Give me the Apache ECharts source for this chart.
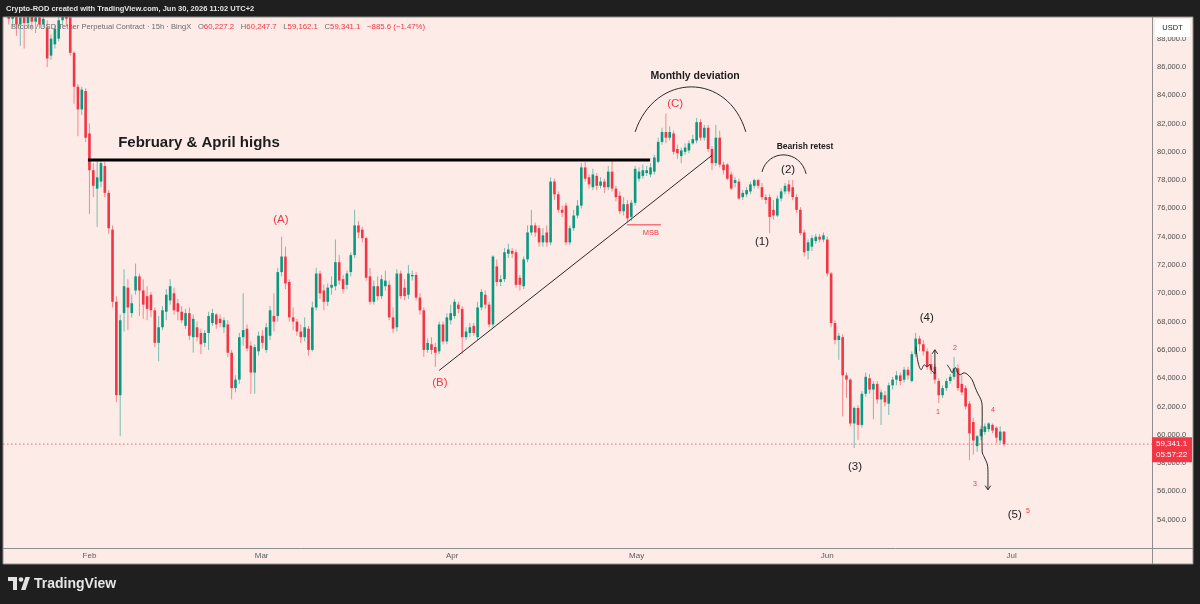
<!DOCTYPE html>
<html>
<head>
<meta charset="utf-8">
<title>BTCUSDT Perpetual · 15h · BingX</title>
<script src="https://cdn.jsdelivr.net/npm/echarts@6.0.0/dist/echarts.min.js"></script>
<style>
  html, body { margin: 0; padding: 0; background: #1f1f1f; }
  #chart { width: 1200px; height: 604px; }
</style>
</head>
<body>
<div id="chart"></div>
<script>
// ── Data ────────────────────────────────────────────────────────────────────
// one row per 15h bar, prices in thousands of USDT: [open, close, low, high]
const barStart = Date.UTC(2026, 0, 18, 6)
const barHours = 15

const candles = [
  [90.3,90.0,89.6,90.6],[90.0,89.4,89.0,90.2],[89.4,89.8,88.9,90.1],[89.8,89.0,88.2,90.0],[89.0,89.5,87.5,89.8],
  [89.5,89.1,87.3,89.9],[89.1,89.6,88.8,90.0],[89.6,89.2,88.6,90.1],[89.2,89.5,88.4,89.9],[89.5,89.0,88.7,89.8],
  [89.0,89.4,88.8,89.7],[88.8,86.6,86.0,89.3],[86.8,88.0,86.5,88.3],[87.6,88.7,87.3,89.0],[88.0,89.3,87.8,89.7],
  [89.3,89.6,88.9,90.2],[89.6,89.4,88.9,90.0],[89.5,87.0,86.8,89.8],[87.0,84.6,83.4,87.1],[84.6,83.0,81.1,84.8],
  [83.0,84.4,82.6,84.6],[84.3,81.0,80.7,84.5],[81.3,78.7,75.6,82.0],[78.7,77.6,76.8,79.2],[77.4,78.2,74.7,79.4],
  [77.9,79.2,77.5,79.5],[79.0,77.1,76.8,79.3],[77.1,74.6,74.2,77.3],[74.5,69.4,69.0,74.8],[69.4,62.8,62.3,69.8],
  [62.8,68.1,59.9,68.5],[68.6,70.5,67.3,71.7],[70.4,69.0,67.4,71.0],[68.6,69.3,68.3,69.9],[70.2,71.2,69.9,72.1],
  [71.2,70.2,68.4,71.4],[70.2,69.2,68.2,71.0],[69.8,68.9,68.1,70.5],[69.9,68.8,68.3,70.1],[68.8,66.5,66.2,69.0],
  [66.5,67.6,65.2,68.4],[67.6,68.8,67.4,69.1],[68.7,69.9,68.1,70.3],[69.5,70.5,69.2,71.0],[70.0,68.8,68.5,70.4],
  [69.3,68.7,68.1,69.6],[68.7,68.1,67.9,69.1],[67.7,68.6,67.5,68.9],[68.6,67.0,66.7,69.0],[66.9,68.2,65.8,68.5],
  [67.6,66.9,66.6,68.0],[67.2,66.4,65.7,67.5],[66.5,67.2,66.2,67.4],[67.2,68.4,66.0,68.7],[67.9,68.6,67.7,68.9],
  [68.5,67.8,67.5,68.6],[68.2,67.9,67.6,68.5],[67.6,68.1,67.2,68.3],[67.8,65.8,65.5,68.1],[65.8,63.3,62.5,66.0],
  [63.3,63.9,63.0,64.2],[63.9,66.9,63.6,67.2],[66.9,67.4,66.3,70.0],[67.5,66.1,65.9,67.8],[66.3,64.4,62.9,66.6],
  [64.4,66.2,62.9,66.4],[65.9,67.0,65.6,67.3],[67.0,66.5,66.1,67.4],[66.0,67.6,65.8,67.9],[67.0,68.8,66.7,69.1],
  [68.4,68.0,67.3,70.0],[68.4,71.5,68.0,71.8],[71.5,72.6,71.2,74.0],[72.6,70.7,70.3,73.3],[70.8,68.3,68.0,71.0],
  [68.3,68.0,67.4,69.0],[68.0,67.3,67.0,68.2],[67.3,66.9,66.5,67.8],[66.9,67.6,66.6,68.3],[67.5,66.0,65.6,67.7],
  [66.0,69.0,65.9,69.4],[69.0,71.4,68.8,71.8],[71.4,70.0,69.6,71.6],[70.2,69.4,68.8,70.6],[69.4,70.4,69.1,70.7],
  [70.4,70.6,69.9,71.2],[70.5,72.2,70.2,73.8],[72.2,70.9,70.6,72.7],[71.0,70.3,70.0,71.3],[70.6,71.4,70.3,71.6],
  [71.5,72.7,71.2,72.9],[72.7,74.8,72.5,75.9],[74.8,74.3,73.9,75.1],[74.5,73.9,73.6,74.7],[73.9,71.1,70.9,74.0],
  [71.2,69.4,69.2,71.8],[69.4,70.5,69.2,70.9],[70.5,69.8,69.5,71.2],[69.8,71.0,69.6,71.3],[70.5,70.9,70.2,71.6],
  [70.6,68.3,68.1,70.9],[68.3,67.5,67.2,69.0],[67.6,71.4,67.3,71.7],[71.4,69.8,69.6,71.6],[70.4,69.8,69.5,71.0],
  [69.9,71.4,69.6,72.0],[71.2,71.3,70.9,71.6],[71.3,69.7,69.5,71.5],[69.7,68.8,68.5,70.0],[68.8,66.0,65.5,69.0],
  [66.0,66.5,65.8,66.8],[66.4,66.0,65.7,66.9],[66.2,65.8,64.8,66.5],[65.9,67.8,65.7,68.0],[67.8,66.6,66.4,68.0],
  [66.6,68.3,66.4,68.6],[68.1,68.6,67.8,69.2],[68.4,69.4,68.2,69.6],[69.2,68.9,68.6,69.4],[68.9,66.9,65.7,69.1],
  [66.9,67.3,66.7,67.6],[67.2,67.6,66.9,67.9],[67.7,67.2,67.0,67.9],[66.9,69.0,66.7,69.4],[69.0,70.1,68.8,70.3],
  [69.9,69.2,68.9,70.2],[69.2,67.8,67.6,69.4],[67.8,72.6,67.6,72.7],[71.9,70.8,70.5,72.4],[70.8,71.0,70.5,71.3],
  [71.0,72.9,70.8,73.2],[72.8,73.1,72.5,73.5],[73.0,72.8,72.5,73.2],[72.9,70.6,70.4,73.1],[71.1,70.6,70.2,71.3],
  [70.5,72.4,70.3,72.6],[72.4,74.3,72.2,74.8],[74.3,74.8,74.1,75.9],[74.8,74.3,74.0,75.0],[74.6,73.6,73.3,74.8],
  [73.6,74.1,73.3,74.6],[74.3,73.6,73.3,74.8],[73.6,77.9,73.4,78.2],[77.9,77.0,76.6,78.1],[77.0,75.9,75.7,77.2],
  [75.9,75.7,75.4,76.2],[76.2,73.6,73.4,76.4],[73.6,74.6,73.4,74.8],[74.6,75.5,74.4,75.9],[75.5,76.2,75.3,76.6],
  [76.2,78.9,76.0,79.2],[78.9,78.1,77.9,79.3],[78.2,77.7,77.4,78.4],[77.5,78.4,77.3,78.8],[78.3,77.6,77.3,78.5],
  [77.6,77.9,77.4,78.2],[77.9,77.5,77.1,78.1],[77.5,78.6,77.3,79.0],[78.6,77.4,77.2,79.4],[77.4,76.8,76.5,77.6],
  [76.9,75.8,75.6,77.2],[75.8,76.3,75.5,76.8],[76.3,75.3,75.0,76.6],[75.4,76.4,75.1,76.6],[76.4,78.8,76.2,79.0],
  [78.1,78.6,77.9,78.9],[78.3,78.7,78.1,79.1],[78.5,78.7,78.3,79.0],[78.4,78.9,78.2,79.2],[78.6,79.6,78.4,79.8],
  [79.3,80.7,79.2,81.0],[80.7,81.4,80.5,81.7],[81.4,81.0,80.6,82.7],[81.0,81.4,80.8,81.8],[81.3,80.0,79.8,81.5],
  [80.2,79.9,79.5,80.5],[79.7,80.1,79.2,80.3],[80.0,80.3,79.8,80.6],[80.1,80.6,79.9,80.8],[80.6,80.9,80.5,81.2],
  [80.8,82.1,80.6,82.4],[82.1,81.0,80.8,82.3],[81.0,81.7,80.8,81.9],[81.7,80.2,80.0,81.9],[80.2,79.2,78.7,80.4],
  [79.2,81.0,79.0,81.9],[81.0,79.1,78.9,81.5],[79.1,78.7,78.4,79.3],[79.1,78.1,78.0,79.2],[78.4,77.4,77.3,78.6],
  [77.8,78.0,77.5,78.2],[77.9,76.7,76.6,78.1],[76.8,77.1,76.6,77.3],[77.0,77.3,76.8,77.5],[77.2,77.7,77.0,77.9],
  [77.6,78.0,77.4,78.1],[78.0,77.6,77.4,78.1],[77.5,76.8,76.6,77.8],[76.8,76.6,76.3,77.0],[76.8,75.4,74.25,77.0],
  [75.9,75.5,75.2,76.6],[75.5,76.7,75.4,76.9],[76.7,77.2,76.5,77.4],[77.2,77.6,77.0,77.8],[77.7,77.2,77.0,78.0],
  [77.5,76.8,76.6,78.0],[76.8,75.9,75.7,77.0],[75.9,74.25,74.1,76.1],[74.3,72.9,72.6,74.5],[73.0,73.6,72.4,73.8],
  [73.3,73.9,73.0,74.1],[73.7,74.0,73.5,74.2],[74.0,73.8,73.6,74.2],[73.8,74.1,73.6,74.3],[73.8,71.4,71.2,74.0],
  [71.4,67.9,67.6,71.5],[67.9,66.7,66.4,68.1],[66.7,67.0,65.3,67.2],[66.9,64.2,61.3,67.1],[64.2,63.9,62.6,64.4],
  [63.9,60.8,60.6,64.0],[60.8,61.9,59.06,62.0],[61.9,60.7,59.65,62.1],[60.7,62.9,60.5,63.1],[62.9,64.1,62.7,64.4],
  [64.0,63.2,62.9,64.3],[63.2,63.6,61.1,63.8],[63.6,62.5,62.2,63.8],[62.5,63.0,60.7,63.2],[62.8,62.3,62.0,63.1],
  [62.2,63.5,61.4,63.7],[63.5,63.9,63.2,64.1],[63.9,64.2,63.5,64.5],[64.2,63.8,63.5,64.4],[63.9,64.6,63.7,64.8],
  [64.6,64.2,63.9,64.8],[63.8,65.7,63.7,65.9],[65.7,66.8,65.5,67.2],[66.8,66.4,65.9,67.0],[66.4,65.9,65.6,66.7],
  [65.9,64.8,64.6,66.1],[65.0,64.6,64.3,65.7],[64.8,63.9,63.6,65.0],[63.8,62.8,62.24,64.0],[62.8,63.3,62.6,63.5],
  [63.3,63.8,63.1,64.0],[63.8,64.1,63.6,64.3],[64.1,64.7,63.9,65.5],[64.7,63.3,63.1,65.0],[63.6,63.0,62.8,64.2],
  [63.3,62.0,61.8,63.5],[62.2,60.1,58.2,62.4],[60.9,59.6,58.6,61.2],[59.2,59.9,58.8,60.0],[59.9,60.4,59.6,60.6],
  [60.2,60.6,60.0,60.8],[60.4,60.8,60.2,60.9],[60.7,60.3,60.1,60.8],[60.5,59.8,59.4,60.6],[59.6,60.2267,59.4,60.6],
  [60.2272,59.3411,59.1621,60.2477],
]

const monthNames  = ['Feb', 'Mar', 'Apr', 'May', 'Jun', 'Jul']
const monthStarts = ['2026-02-01', '2026-03-01', '2026-04-01', '2026-05-01', '2026-06-01', '2026-07-01']
const priceMin = 52000
const priceMax = 89530
const priceStep = 2000
const barSlots = 299          // visible bar slots, incl. empty space on the right
const countdown = '05:57:22'

// ── Drawings on the chart, anchored at [bar index, price] ──────────────────
const notes = [
  ['February & April highs', 50.5, 80630, 'big'],
  ['Monthly deviation', 179.6, 85360, 'head'],
  ['(C)', 174.4, 83390, 'waveRed'],
  ['(A)', 71.8, 75190, 'waveRed'],
  ['(B)', 113.2, 63680, 'waveRed'],
  ['MSB', 168.1, 74270, 'msb'],
  ['Bearish retest', 208.2, 80350, 'small'],
  ['(1)', 197.0, 73640, 'wave'],
  ['(2)', 203.8, 78720, 'wave'],
  ['(3)', 221.2, 57740, 'wave'],
  ['(4)', 239.9, 68270, 'wave'],
  ['(5)', 262.8, 54350, 'wave'],
  ['5', 266.2, 54640, 'tiny'],
  ['1', 242.8, 61630, 'tiny'],
  ['2', 247.2, 66150, 'tiny'],
  ['3', 252.4, 56540, 'tiny'],
  ['4', 257.1, 61770, 'tiny'],
]
const highsLine = [[21.6, 79430], [167.9, 79430]]
const trendLine = [[113.0, 64550], [184.0, 79750]]
const msbLine   = [[161.9, 74840], [170.7, 74840]]
const deviationArc = [[164.0, 81410], [169.2, 85650], [188.2, 85650], [192.8, 81410]]
const retestArc    = [[197.0, 78580], [198.6, 80210], [206.9, 80210], [208.5, 78440]]
const sketchA = [[237.1, 66220], [237.6, 65160], [238.4, 64600], [239.2, 64950], [239.9, 64810],
                 [240.7, 64950], [241.2, 64530], [242.0, 64310]]
const arrowA  = [[242.0, 64310], [242.0, 66010]]
const sketchB = [[245.2, 64950], [245.9, 64670], [246.5, 64380], [247.0, 64670], [247.5, 64740],
                 [247.8, 64450], [248.5, 64240], [249.6, 64380], [250.6, 64240], [251.7, 63890],
                 [252.4, 63400], [253.2, 62900], [254.0, 62480], [254.3, 62050], [254.3, 58800],
                 [254.8, 58450], [255.6, 57960], [255.8, 57530], [255.8, 56120]]

// ── Style ──────────────────────────────────────────────────────────────────
const FONT = '"Liberation Sans", Arial, sans-serif'
const UP = '#089981', DOWN = '#f23645'
const UP_WICK = 'rgba(8,153,129,0.55)', DOWN_WICK = 'rgba(242,54,69,0.55)'
const INK = '#1c1c1c', RED = '#f23645'
const PANEL = '#fdebe7', FRAME = '#1f1f1f', RULE = '#8e8e8e'

const noteStyle = {
  big:     { font: `bold 15px ${FONT}`, fill: INK },
  head:    { font: `bold 10.5px ${FONT}`, fill: INK },
  small:   { font: `bold 8.5px ${FONT}`, fill: INK },
  wave:    { font: `11.5px ${FONT}`, fill: INK },
  waveRed: { font: `11.5px ${FONT}`, fill: RED },
  msb:     { font: `7.5px ${FONT}`, fill: RED },
  tiny:    { font: `7px ${FONT}`, fill: RED },
}

const shapes = [
  { kind: 'line', pts: highsLine, w: 3, c: '#000' },
  { kind: 'line', pts: trendLine, w: 1, c: '#2a2a2a' },
  { kind: 'line', pts: msbLine, w: 1, c: RED },
  { kind: 'curve', pts: deviationArc, w: 1, c: '#2a2a2a' },
  { kind: 'curve', pts: retestArc, w: 1, c: '#2a2a2a' },
  { kind: 'line', pts: sketchA, w: 1, c: '#2a2a2a', smooth: 0.35 },
  { kind: 'line', pts: arrowA, w: 1, c: '#2a2a2a', arrow: true },
  { kind: 'line', pts: sketchB, w: 1, c: '#2a2a2a', smooth: 0.3, arrow: true },
  ...notes.map(n => ({ kind: 'text', text: n[0], pts: [[n[1], n[2]]], style: n[3] })),
]

// ── Helpers ────────────────────────────────────────────────────────────────
const usd = v => v.toLocaleString('en-US', { minimumFractionDigits: 1, maximumFractionDigits: 1 })
const monthPos = monthStarts.map(d => (Date.parse(d + 'T00:00:00Z') - barStart) / (barHours * 3600e3))
const bars = candles.map((b, i) => [i, b[0] * 1000, b[1] * 1000, b[2] * 1000, b[3] * 1000])
const last = bars[bars.length - 1]
const prevClose = bars[bars.length - 2][2]
const change = last[2] - prevClose
const changePct = change / prevClose * 100

function renderCandle(params, api) {
  const i = api.value(0)
  const o = api.value(1), c = api.value(2), l = api.value(3), h = api.value(4)
  const up = c >= o
  const hi = api.coord([i, h]), lo = api.coord([i, l])
  const top = api.coord([i, Math.max(o, c)]), bot = api.coord([i, Math.min(o, c)])
  const w = api.size([1, 0])[0] * 0.68
  const x = hi[0]
  return {
    type: 'group',
    children: [
      { type: 'line', shape: { x1: x, y1: hi[1], x2: x, y2: lo[1] },
        style: { stroke: up ? UP_WICK : DOWN_WICK, lineWidth: 1 } },
      { type: 'rect', shape: { x: x - w / 2, y: top[1], width: w, height: Math.max(bot[1] - top[1], 1) },
        style: { fill: up ? UP : DOWN } },
    ],
  }
}

function renderDrawing(params, api) {
  const s = shapes[params.dataIndex]
  const P = s.pts.map(p => api.coord(p))
  if (s.kind === 'text') {
    return { type: 'text', x: P[0][0], y: P[0][1],
      style: { text: s.text, ...noteStyle[s.style], align: 'center', verticalAlign: 'middle' } }
  }
  if (s.kind === 'curve') {
    return { type: 'bezierCurve',
      shape: { x1: P[0][0], y1: P[0][1], cpx1: P[1][0], cpy1: P[1][1],
               cpx2: P[2][0], cpy2: P[2][1], x2: P[3][0], y2: P[3][1] },
      style: { stroke: s.c, lineWidth: s.w, fill: 'none' } }
  }
  const children = [{ type: 'polyline', shape: { points: P, smooth: s.smooth || 0 },
    style: { stroke: s.c, lineWidth: s.w, fill: 'none' } }]
  if (s.arrow) {
    const a = P[P.length - 2], b = P[P.length - 1]
    const ang = Math.atan2(b[1] - a[1], b[0] - a[0]), L = 5
    children.push({ type: 'polyline',
      shape: { points: [[b[0] - L * Math.cos(ang - 0.6), b[1] - L * Math.sin(ang - 0.6)], b,
                        [b[0] - L * Math.cos(ang + 0.6), b[1] - L * Math.sin(ang + 0.6)]] },
      style: { stroke: s.c, lineWidth: s.w, fill: 'none' } })
  }
  return { type: 'group', children }
}

// ── Chart ──────────────────────────────────────────────────────────────────
const chart = echarts.init(document.getElementById('chart'), null, { renderer: 'canvas' })

const legendText =
  `{g|Bitcoin / USD Tether Perpetual Contract · ${barHours}h · BingX}  ` +
  `{g|O}{r|${usd(last[1])}}  {g|H}{r|${usd(last[4])}}  {g|L}{r|${usd(last[3])}}  {g|C}{r|${usd(last[2])}}  ` +
  `{r|${change < 0 ? '−' : '+'}${usd(Math.abs(change))} (${change < 0 ? '−' : '+'}${Math.abs(changePct).toFixed(2)}%)}`

chart.setOption({
  animation: false,
  backgroundColor: FRAME,
  grid: { left: 3, right: 48, top: 17, bottom: 56, containLabel: false },
  xAxis: {
    type: 'value',
    min: -0.5,
    max: barSlots - 0.5,
    axisLine: { show: false },
    axisTick: { show: false },
    splitLine: { show: false },
    axisLabel: {
      customValues: monthPos,
      margin: 4,
      color: '#5b5b5b',
      fontFamily: FONT,
      fontSize: 8,
      formatter: v => {
        const k = monthPos.findIndex(p => Math.abs(p - v) < 1e-6)
        return k >= 0 ? monthNames[k] : ''
      },
    },
  },
  yAxis: {
    type: 'value',
    position: 'right',
    min: priceMin,
    max: priceMax,
    interval: priceStep,
    axisLine: { show: false },
    axisTick: { show: false },
    splitLine: { show: false },
    axisLabel: {
      margin: 5,
      showMinLabel: false,
      showMaxLabel: false,
      color: '#4f4f4f',
      fontFamily: FONT,
      fontSize: 7.5,
      formatter: v => usd(v),
    },
  },
  series: [
    {
      type: 'custom',
      name: 'BTCUSDT',
      renderItem: renderCandle,
      encode: { x: 0, y: [1, 2, 3, 4] },
      clip: true,
      z: 2,
      data: bars,
    },
    {
      type: 'custom',
      name: 'drawings',
      renderItem: renderDrawing,
      encode: { x: 0, y: 1 },
      clip: false,
      z: 4,
      data: shapes.map(s => s.pts[0]),
    },
    {
      type: 'line',
      name: 'last price',
      data: [[-0.5, last[2]], [barSlots - 0.5, last[2]]],
      showSymbol: false,
      silent: true,
      z: 3,
      lineStyle: { color: 'rgba(242,54,69,0.75)', width: 1, type: [1.5, 2.5] },
    },
  ],
  graphic: [
    { id: 'panel', type: 'rect', z: -10, silent: true,
      shape: { x: 3, y: 17, width: 1190, height: 547 },
      style: { fill: PANEL, stroke: RULE, lineWidth: 1 } },
    { id: 'ruleV', type: 'line', z: 1, shape: { x1: 1152.5, y1: 17, x2: 1152.5, y2: 564 }, style: { stroke: RULE, lineWidth: 1 } },
    { id: 'ruleH', type: 'line', z: 1, shape: { x1: 3, y1: 548.5, x2: 1193, y2: 548.5 }, style: { stroke: RULE, lineWidth: 1 } },
    { id: 'header', type: 'text', z: 100, x: 6, y: 9,
      style: { text: 'Crypto-ROD created with TradingView.com, Jun 30, 2026 11:02 UTC+2',
               fill: '#e4e4e4', font: `bold 7.5px ${FONT}`, verticalAlign: 'middle' } },
    { id: 'legend', type: 'text', z: 100, x: 11, y: 27,
      style: { text: legendText, verticalAlign: 'middle',
               rich: {
                 g: { fill: '#6b6b6b', font: `7.6px ${FONT}` },
                 r: { fill: RED, font: `7.8px ${FONT}` },
               } } },
    { id: 'unitBox', type: 'rect', z: 100, shape: { x: 1155, y: 19, width: 35, height: 18, r: 2 }, style: { fill: '#ffffff' } },
    { id: 'unitText', type: 'text', z: 101, x: 1172.5, y: 27.5,
      style: { text: 'USDT', fill: '#1c1c1c', font: `7.5px ${FONT}`, align: 'center', verticalAlign: 'middle' } },
    // TradingView watermark
    { id: 'logoA', type: 'rect', z: 100, shape: { x: 8, y: 577, width: 9, height: 4 }, style: { fill: '#e2e2e2' } },
    { id: 'logoB', type: 'rect', z: 100, shape: { x: 13, y: 577, width: 4, height: 13 }, style: { fill: '#e2e2e2' } },
    { id: 'logoC', type: 'circle', z: 100, shape: { cx: 21, cy: 579.5, r: 2.3 }, style: { fill: '#e2e2e2' } },
    { id: 'logoD', type: 'polygon', z: 100, shape: { points: [[21, 590], [25.5, 590], [30, 577], [25.5, 577]] }, style: { fill: '#e2e2e2' } },
    { id: 'logoText', type: 'text', z: 100, x: 34, y: 584,
      style: { text: 'TradingView', fill: '#e6e6e6', font: `bold 14px ${FONT}`, verticalAlign: 'middle' } },
  ],
})

// price tag on the axis, placed at the last close
const tagY = chart.convertToPixel({ yAxisIndex: 0 }, last[2])
chart.setOption({
  graphic: [
    { id: 'tagBox', type: 'rect', z: 100, shape: { x: 1152, y: tagY - 7, width: 40, height: 25 }, style: { fill: RED } },
    { id: 'tagPrice', type: 'text', z: 101, x: 1156, y: tagY,
      style: { text: usd(last[2]), fill: '#fff', font: `8px ${FONT}`, verticalAlign: 'middle' } },
    { id: 'tagTime', type: 'text', z: 101, x: 1156, y: tagY + 11,
      style: { text: countdown, fill: '#fff', font: `8px ${FONT}`, verticalAlign: 'middle' } },
  ],
})
</script>
</body>
</html>
